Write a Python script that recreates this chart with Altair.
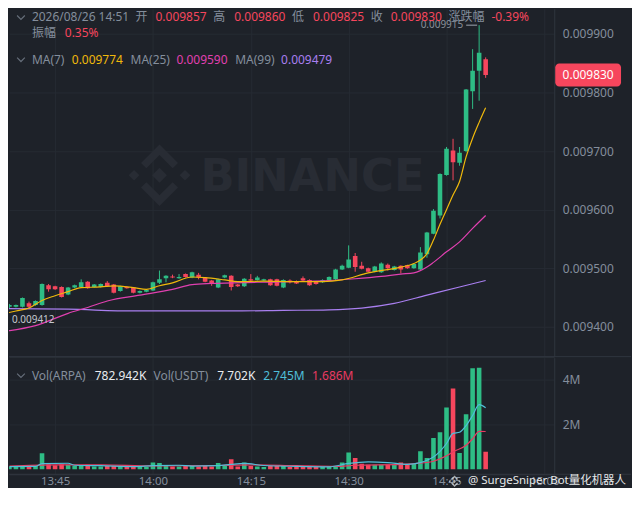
import altair as alt
import pandas as pd

# ---------------- data ----------------
times = ["13:38","13:39","13:40","13:41","13:42","13:43","13:44","13:45","13:46","13:47",
         "13:48","13:49","13:50","13:51","13:52","13:53","13:54","13:55","13:56","13:57",
         "13:58","13:59","14:00","14:01","14:02","14:03","14:04","14:05","14:06","14:07",
         "14:08","14:09","14:10","14:11","14:12","14:13","14:14","14:15","14:16","14:17",
         "14:18","14:19","14:20","14:21","14:22","14:23","14:24","14:25","14:26","14:27",
         "14:28","14:29","14:30","14:31","14:32","14:33","14:34","14:35","14:36","14:37",
         "14:38","14:39","14:40","14:41","14:42","14:43","14:44","14:45","14:46","14:47",
         "14:48","14:49","14:50","14:51"]
opens = [0.009434,0.009434,0.009434,0.009440,0.009437,0.009437,0.009471,0.009469,0.009468,0.009455,
         0.009467,0.009468,0.009477,0.009468,0.009468,0.009475,0.009472,0.009461,0.009468,0.009467,
         0.009458,0.009460,0.009462,0.009475,0.009483,0.009486,0.009483,0.009490,0.009484,0.009489,
         0.009484,0.009479,0.009467,0.009484,0.009487,0.009472,0.009469,0.009481,0.009480,0.009479,
         0.009481,0.009481,0.009467,0.009479,0.009478,0.009483,0.009480,0.009477,0.009476,0.009479,
         0.009481,0.009498,0.009501,0.009521,0.009504,0.009500,0.009494,0.009493,0.009506,0.009497,
         0.009504,0.009505,0.009500,0.009498,0.009524,0.009559,0.009590,0.009659,0.009701,0.009680,
         0.009700,0.009802,0.009837,0.009857]
highs = [0.009439,0.009438,0.009450,0.009443,0.009445,0.009474,0.009473,0.009470,0.009469,0.009468,
         0.009472,0.009481,0.009478,0.009473,0.009474,0.009478,0.009473,0.009470,0.009469,0.009468,
         0.009462,0.009464,0.009477,0.009496,0.009488,0.009489,0.009490,0.009491,0.009494,0.009492,
         0.009485,0.009480,0.009482,0.009489,0.009488,0.009473,0.009483,0.009490,0.009487,0.009482,
         0.009482,0.009482,0.009481,0.009481,0.009479,0.009486,0.009481,0.009478,0.009481,0.009486,
         0.009499,0.009506,0.009539,0.009526,0.009511,0.009501,0.009504,0.009510,0.009508,0.009504,
         0.009505,0.009506,0.009508,0.009536,0.009562,0.009601,0.009662,0.009707,0.009721,0.009707,
         0.009806,0.009874,0.009915,0.009860]
lows = [0.009432,0.009433,0.009433,0.009431,0.009436,0.009436,0.009460,0.009463,0.009450,0.009454,
        0.009466,0.009467,0.009465,0.009467,0.009467,0.009468,0.009457,0.009460,0.009465,0.009457,
        0.009457,0.009459,0.009461,0.009473,0.009476,0.009483,0.009482,0.009484,0.009483,0.009481,
        0.009476,0.009470,0.009466,0.009483,0.009462,0.009468,0.009468,0.009478,0.009479,0.009478,
        0.009470,0.009469,0.009466,0.009474,0.009473,0.009478,0.009470,0.009472,0.009475,0.009478,
        0.009480,0.009497,0.009500,0.009494,0.009498,0.009493,0.009493,0.009492,0.009496,0.009496,
        0.009491,0.009499,0.009499,0.009497,0.009518,0.009558,0.009585,0.009658,0.009650,0.009675,
        0.009698,0.009772,0.009786,0.009825]
closes = [0.009437,0.009437,0.009449,0.009434,0.009444,0.009473,0.009464,0.009464,0.009451,0.009467,
          0.009471,0.009476,0.009466,0.009472,0.009473,0.009469,0.009458,0.009469,0.009466,0.009458,
          0.009461,0.009463,0.009476,0.009481,0.009487,0.009484,0.009485,0.009485,0.009493,0.009484,
          0.009477,0.009473,0.009481,0.009488,0.009468,0.009469,0.009482,0.009479,0.009484,0.009481,
          0.009471,0.009470,0.009480,0.009476,0.009474,0.009479,0.009471,0.009473,0.009480,0.009485,
          0.009498,0.009504,0.009515,0.009502,0.009499,0.009494,0.009503,0.009508,0.009500,0.009503,
          0.009498,0.009500,0.009507,0.009527,0.009561,0.009598,0.009661,0.009704,0.009681,0.009697,
          0.009805,0.009837,0.009868,0.009830]
volumes_m = [0.10,0.12,0.15,0.12,0.15,0.72,0.22,0.18,0.22,0.20,
             0.15,0.18,0.20,0.12,0.12,0.15,0.15,0.12,0.10,0.12,
             0.10,0.10,0.30,0.28,0.15,0.12,0.12,0.15,0.15,0.12,
             0.15,0.12,0.28,0.15,0.45,0.12,0.30,0.15,0.12,0.10,
             0.15,0.15,0.18,0.10,0.10,0.12,0.12,0.10,0.10,0.12,
             0.12,0.30,0.75,0.50,0.25,0.20,0.20,0.20,0.20,0.20,
             0.30,0.20,0.25,0.80,0.50,1.40,1.65,2.75,3.60,0.73,
             2.45,4.50,4.53,0.782942]

ma7_times = ["13:37","13:39","13:41","13:43","13:45","13:47","13:49","13:52","13:54","13:57",
             "13:59","14:01","14:03","14:06","14:08","14:11","14:13","14:17","14:22","14:26",
             "14:29","14:33","14:38","14:40","14:42","14:43","14:44","14:45","14:46","14:47",
             "14:48","14:49","14:50","14:51"]
ma7_vals = [0.009422,0.009427,0.009432,0.009445,0.009453,0.009460,0.009467,0.009468,0.009470,0.009467,
            0.009464,0.009470,0.009475,0.009485,0.009484,0.009480,0.009477,0.009478,0.009477,0.009477,
            0.009480,0.009492,0.009502,0.009508,0.009525,0.009548,0.009575,0.009600,0.009625,0.009648,
            0.009690,0.009722,0.009749,0.009774]
ma25_times = ["13:37","13:42","13:47","13:50","13:53","13:58","14:03","14:06","14:09","14:16",
              "14:27","14:31","14:35","14:38","14:40","14:42","14:43","14:45","14:47","14:49","14:51"]
ma25_vals = [0.009392,0.009402,0.009423,0.009433,0.009444,0.009454,0.009464,0.009472,0.009474,0.009476,
             0.009479,0.009482,0.009486,0.009490,0.009492,0.009502,0.009510,0.009528,0.009545,0.009568,0.009590]
ma99_times = ["13:37","13:47","13:57","14:05","14:12","14:20","14:27","14:32","14:37","14:42","14:47","14:51"]
ma99_vals = [0.009431,0.009430,0.009427,0.009427,0.009427,0.009428,0.009429,0.009432,0.009440,0.009454,0.009468,0.009479]

vma5_times = ["13:38","13:42","13:43","13:47","13:48","13:52","13:57","14:00","14:04","14:06","14:10","14:12",
              "14:14","14:17","14:22","14:27","14:30","14:33","14:36","14:39","14:41","14:42","14:43",
              "14:44","14:45","14:46","14:47","14:48","14:49","14:50","14:51"]
vma5_vals = [0.12,0.13,0.25,0.27,0.18,0.16,0.12,0.16,0.18,0.14,0.16,0.22,
             0.26,0.17,0.13,0.11,0.26,0.33,0.30,0.22,0.30,0.40,0.55,
             0.80,1.15,1.60,1.65,1.95,2.40,2.88,2.745]
vma10_times = ["13:38","13:45","13:52","14:00","14:10","14:15","14:22","14:28","14:31","14:38","14:40",
               "14:43","14:45","14:46","14:48","14:49","14:50","14:51"]
vma10_vals = [0.14,0.20,0.20,0.15,0.17,0.20,0.16,0.13,0.18,0.22,0.25,
              0.36,0.60,0.78,1.07,1.36,1.69,1.686]

vol_usdt_label = "7.702K"
low_mark = 0.009412
price_ticks = [0.0094, 0.0095, 0.0096, 0.0097, 0.0098, 0.0099]
vol_ticks = [2, 4]
time_ticks = ["13:45", "14:00", "14:15", "14:30", "14:45", "15:00"]
header_date = "2026/08/26 14:51"

# ---------------- styles ----------------
BG = "#1e2229"
GRID = "#262b33"
LINE = "#2f353e"
GREY = "#848e9c"
GREEN = "#2ebd85"
RED = "#f6465d"
YELLOW = "#f0b90b"
MAGENTA = "#e040b0"
PURPLE = "#a97ff0"
CYAN = "#4fbfd9"
VRED = "#e83a62"
FONT = "Noto Sans, Noto Sans CJK SC, sans-serif"
FS = 12

W, HP, HV = 547, 349, 117
TOTAL_W = 624


def to_min(s):
    h, m = s.split(":")
    return (int(h) - 13) * 60 + int(m)


candles = pd.DataFrame({
    "t": [to_min(s) for s in times],
    "open": opens, "high": highs, "low": lows, "close": closes, "vol": volumes_m,
})
candles["dir"] = ["up" if c >= o else "down" for o, c in zip(opens, closes)]
candles["zero"] = 0.0


def ma_df(ts, vs):
    return pd.DataFrame({"t": [to_min(s) for s in ts], "v": vs})


xs = alt.Scale(domain=[38.7, 120.75], nice=False, zero=False)
ys_p = alt.Scale(domain=[0.009349, 0.009943], nice=False, zero=False)
ys_v = alt.Scale(domain=[-0.222, 4.978], nice=False, zero=False)
col = alt.Color("dir:N", scale=alt.Scale(domain=["up", "down"], range=[GREEN, RED]), legend=None)
tick_min = [to_min(s) for s in time_ticks]

x_price_axis = alt.Axis(values=tick_min, labels=False, ticks=False, domain=True,
                        domainColor=LINE, grid=True, gridColor=GRID, title=None)
y_price_axis = alt.Axis(orient="right", values=price_ticks, format=".6f", ticks=False,
                        domain=True, domainColor=LINE, grid=True, gridColor=GRID,
                        labelColor=GREY, labelFontSize=FS, labelFont=FONT, labelPadding=8,
                        title=None)
x_vol_axis = alt.Axis(values=tick_min, ticks=False, domain=True, domainColor=LINE, grid=True,
                      gridColor=GRID, labelColor=GREY, labelFontSize=11.5, labelFont=FONT,
                      labelPadding=1, title=None,
                      labelExpr="format(13 + floor(datum.value / 60), 'd') + ':' + format(datum.value % 60, '02d')")
y_vol_axis = alt.Axis(orient="right", values=vol_ticks, ticks=False, domain=True, domainColor=LINE,
                      grid=True, gridColor=GRID, labelColor=GREY, labelFontSize=FS, labelFont=FONT,
                      labelPadding=8, title=None, labelExpr="datum.value + 'M'")


def XP(f="t"):
    return alt.X(f"{f}:Q", scale=xs, axis=x_price_axis)


def YP(f):
    return alt.Y(f"{f}:Q", scale=ys_p, axis=y_price_axis)


def XV(f="t"):
    return alt.X(f"{f}:Q", scale=xs, axis=x_vol_axis)


def YV(f):
    return alt.Y(f"{f}:Q", scale=ys_v, axis=y_vol_axis)


dummy = pd.DataFrame({"k": [0]})


def txt(s, x, y, color, size=FS, align="left", font=FONT, weight="normal"):
    return alt.Chart(dummy).mark_text(
        text=s, align=align, baseline="middle", color=color, fontSize=size,
        font=font, fontWeight=weight
    ).encode(x=alt.value(x), y=alt.value(y))


def chevron(x, y):
    return alt.Chart(dummy).mark_point(
        shape="M-1,-0.5L0,0.5L1,-0.5", filled=False, color=GREY, size=60, strokeWidth=1.2
    ).encode(x=alt.value(x), y=alt.value(y))


LOGO = ("M0,-0.18L0.18,0L0,0.18L-0.18,0Z"
        "M-0.62,-0.13L-0.49,0L-0.62,0.13L-0.75,0Z"
        "M0.62,-0.13L0.75,0L0.62,0.13L0.49,0Z"
        "M0,-0.75L0.45,-0.3L0.32,-0.17L0,-0.49L-0.32,-0.17L-0.45,-0.3Z"
        "M0,0.75L0.45,0.3L0.32,0.17L0,0.49L-0.32,0.17L-0.45,0.3Z")

# ---------------- price panel ----------------
base = alt.Chart(candles)

watermark_logo = alt.Chart(dummy).mark_point(
    shape=LOGO, filled=True, color="#282c34", size=6800, opacity=1
).encode(x=alt.value(151), y=alt.value(167))
watermark_text = txt("BINANCE", 192, 169, "#282c34", size=45, font="DejaVu Sans", weight="bold")

wicks = base.mark_rule(strokeWidth=1, clip=True).encode(
    x=XP(), y=YP("low"), y2="high:Q", color=col)
bodies = base.mark_bar(size=4.6, clip=True).encode(
    x=XP(), y=YP("open"), y2="close:Q", color=col)


def ma_line(ts, vs, color, X, Y):
    return alt.Chart(ma_df(ts, vs)).mark_line(
        color=color, strokeWidth=1.2, interpolate="monotone", clip=True
    ).encode(x=X(), y=Y("v"))


last = candles.iloc[-1]
prev_close = candles.iloc[-2]["close"]
chg = (last["close"] - prev_close) / prev_close * 100
amp = (last["high"] - last["low"]) / prev_close * 100

tag_df = pd.DataFrame({"p": [last["close"]]})
tag_rect = alt.Chart(tag_df).mark_rect(color=RED, cornerRadius=4, yOffset=-11.5, y2Offset=11.5).encode(
    x=alt.value(548), x2=alt.value(614), y=YP("p"), y2="p:Q")
tag_text = alt.Chart(tag_df).mark_text(color="white", fontSize=FS, font=FONT, align="center",
                                       baseline="middle").encode(
    x=alt.value(581), y=YP("p"), text=alt.Text("p:Q", format=".6f"))

hi_idx = candles["high"].idxmax()
hi_df = pd.DataFrame({"t": [candles.loc[hi_idx, "t"]], "p": [candles.loc[hi_idx, "high"]]})
hi_rule = alt.Chart(hi_df).mark_rule(color="#a0a7b1", strokeWidth=1, xOffset=-13, x2Offset=-2).encode(
    x=XP(), x2="t:Q", y=YP("p"))
hi_text = alt.Chart(hi_df).mark_text(color="#8a919b", fontSize=10, font=FONT, align="right",
                                     baseline="middle", dx=-16).encode(
    x=XP(), y=YP("p"), text=alt.Text("p:Q", format=".6f"))
lo_df = pd.DataFrame({"p": [low_mark]})
lo_text = alt.Chart(lo_df).mark_text(color="#c4c9d0", fontSize=10, font=FONT, align="left",
                                     baseline="middle").encode(
    x=alt.value(3), y=YP("p"), text=alt.Text("p:Q", format=".6f"))

f6 = lambda v: f"{v:.6f}"
header = [
    chevron(12, 8.7),
    txt(header_date, 23, 8.7, GREY),
    txt("开", 127, 8.7, GREY), txt(f6(last["open"]), 147, 8.7, RED),
    txt("高", 205, 8.7, GREY), txt(f6(last["high"]), 226, 8.7, RED),
    txt("低", 284, 8.7, GREY), txt(f6(last["low"]), 305, 8.7, RED),
    txt("收", 363, 8.7, GREY), txt(f6(last["close"]), 383, 8.7, RED),
    txt("涨跌幅", 441, 8.7, GREY), txt(f"{chg:.2f}%", 484, 8.7, RED),
    txt("振幅", 23, 24.3, GREY), txt(f"{amp:.2f}%", 56, 24.3, RED),
    chevron(12, 51),
    txt("MA(7)", 23, 51, GREY), txt(f6(ma7_vals[-1]), 63, 51, YELLOW),
    txt("MA(25)", 122, 51, GREY), txt(f6(ma25_vals[-1]), 168, 51, MAGENTA),
    txt("MA(99)", 227, 51, GREY), txt(f6(ma99_vals[-1]), 273, 51, PURPLE),
]
sep_price = alt.Chart(dummy).mark_rule(color=LINE, strokeWidth=1).encode(
    x=alt.value(0), x2=alt.value(TOTAL_W), y=alt.value(HP))

price = alt.layer(
    wicks, watermark_logo, watermark_text, bodies,
    ma_line(ma99_times, ma99_vals, PURPLE, XP, YP),
    ma_line(ma25_times, ma25_vals, MAGENTA, XP, YP),
    ma_line(ma7_times, ma7_vals, YELLOW, XP, YP),
    tag_rect, tag_text, hi_rule, hi_text, lo_text, sep_price, *header,
).properties(width=W, height=HP)

# ---------------- volume panel ----------------
vbars = alt.Chart(candles).mark_bar(size=4.6, clip=True).encode(
    x=XV(), y=YV("vol"), y2="zero:Q", color=col)
vol_header = [
    chevron(12, 18),
    txt("Vol(ARPA)", 23, 18, GREY), txt(f"{volumes_m[-1]*1000:.3f}K", 86, 18, "#eaecef"),
    txt("Vol(USDT)", 145, 18, GREY), txt(vol_usdt_label, 209, 18, "#eaecef"),
    txt(f"{vma5_vals[-1]:.3f}M", 255, 18, CYAN), txt(f"{vma10_vals[-1]:.3f}M", 304, 18, VRED),
]
sep_vol = alt.Chart(dummy).mark_rule(color=LINE, strokeWidth=1).encode(
    x=alt.value(0), x2=alt.value(TOTAL_W), y=alt.value(HV))
div_ext = alt.Chart(dummy).mark_rule(color=LINE, strokeWidth=1).encode(
    x=alt.value(W), y=alt.value(HV), y2=alt.value(HV + 10))
wm_icon = alt.Chart(dummy).mark_point(shape=LOGO, filled=True, color="#e6e8ea", size=240).encode(
    x=alt.value(447), y=alt.value(124))
wm_text = txt("@ SurgeSniper Bot量化机器人", 619, 124, "#e6e8ea", size=11.5, align="right")

volume = alt.layer(
    vbars,
    ma_line(vma10_times, vma10_vals, VRED, XV, YV),
    ma_line(vma5_times, vma5_vals, CYAN, XV, YV),
    sep_vol, div_ext, *vol_header, wm_icon, wm_text,
).properties(width=W, height=HV)

chart = alt.vconcat(price, volume, spacing=0).resolve_scale(
    y="independent", color="independent", x="independent"
).resolve_axis(y="independent", x="independent").configure(
    background=BG, padding=0
).configure_view(stroke=None)

chart.save("out.html", embed_options={"renderer": "svg", "actions": False})
